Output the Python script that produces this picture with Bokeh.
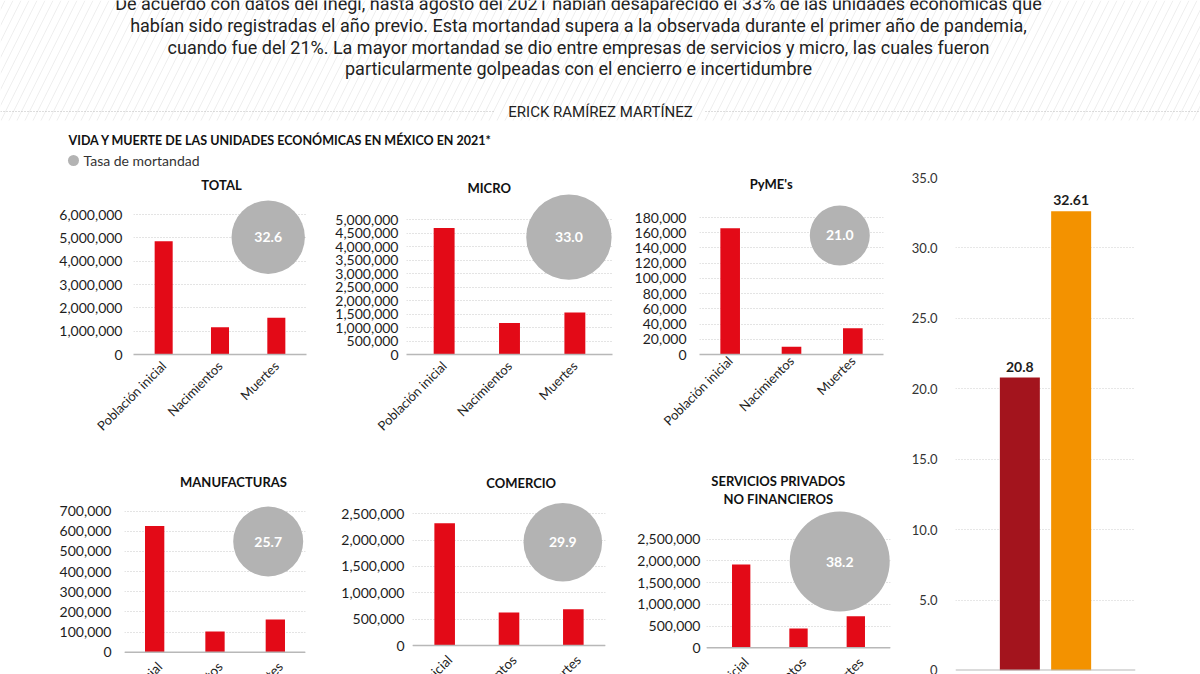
import math
from bokeh.plotting import figure
from bokeh.models import (Range1d, FactorRange, FixedTicker, NumeralTickFormatter,
                          CustomJSTickFormatter, Span, Label, LabelSet, ColumnDataSource, AllLabels)
from bokeh.transform import dodge
from bokeh.layouts import column, row
from bokeh.embed import file_html
from bokeh.resources import INLINE
from bokeh.core.properties import value

# ------------------------------------------------------------------ data
categories = ["Población inicial", "Nacimientos", "Muertes"]
total = [4850000, 1170000, 1580000]
micro = [4690000, 1170000, 1560000]
pymes = [166000, 10200, 34500]
manufacturas = [627000, 103000, 162000]
comercio = [2320000, 626000, 690000]
servicios = [1920000, 444000, 727000]
panel_names = ["TOTAL", "MICRO", "PyME's", "MANUFACTURAS", "COMERCIO",
               "SERVICIOS PRIVADOS\nNO FINANCIEROS"]
tasa_mortandad = [32.6, 33.0, 21.0, 25.7, 29.9, 38.2]
total_ticks = [0, 1000000, 2000000, 3000000, 4000000, 5000000, 6000000]
micro_ticks = [0, 500000, 1000000, 1500000, 2000000, 2500000, 3000000, 3500000,
               4000000, 4500000, 5000000]
pymes_ticks = [0, 20000, 40000, 60000, 80000, 100000, 120000, 140000, 160000, 180000]
manufacturas_ticks = [0, 100000, 200000, 300000, 400000, 500000, 600000, 700000]
comercio_ticks = [0, 500000, 1000000, 1500000, 2000000, 2500000]
servicios_ticks = [0, 500000, 1000000, 1500000, 2000000, 2500000]

periodos = ["2020", "2021"]
tasa_periodo = [20.8, 32.61]
periodo_ticks = [0, 5, 10, 15, 20, 25, 30, 35]

intro = [
    "De acuerdo con datos del Inegi, hasta agosto del 2021 habían desaparecido el 33% de las unidades económicas que",
    "habían sido registradas el año previo. Esta mortandad supera a la observada durante el primer año de pandemia,",
    "cuando fue del 21%. La mayor mortandad se dio entre empresas de servicios y micro, las cuales fueron",
    "particularmente golpeadas con el encierro e incertidumbre",
]
author = "ERICK RAMÍREZ MARTÍNEZ"
chart_title = "VIDA Y MUERTE DE LAS UNIDADES ECONÓMICAS EN MÉXICO EN 2021*"
legend_text = "Tasa de mortandad"

# ------------------------------------------------------------------ style
RED = "#E30A17"
GREY = "#B3B3B3"
BAR_COLORS = ["#A3141D", "#F39200"]
TXT = "#1d1d1d"
FONT = "Lato"
NARROW = "Roboto"

HEADER_H = 170
# page-pixel layout of each small panel
LAYOUT = [
    dict(fig=(0, 170, 332, 275), axis=(135, 304), y0=354, ytop=214, pad=2, xstand=3,
         bub=(267.7, 236.7, 36.7), title=[(221, 184)], lab_right=128),
    dict(fig=(332, 170, 298, 275), axis=(409, 607), y0=355, ytop=219.3, pad=5, xstand=3,
         bub=(568, 237, 42.7), title=[(486.7, 188)], lab_right=402),
    dict(fig=(630, 170, 270, 275), axis=(699, 883), y0=359, ytop=218.3, pad=0, xstand=-2,
         bub=(839.3, 236.7, 30), title=[(770.7, 188)], lab_right=691.7),
    dict(fig=(0, 445, 332, 229), axis=(124, 305), y0=651.7, ytop=510.7, pad=0,
         bub=(267.7, 541, 35), title=[(233, 481)], lab_right=116.7),
    dict(fig=(332, 445, 298, 229), axis=(412, 605), y0=645, ytop=513.3, pad=0,
         bub=(562.3, 541.7, 39.3), title=[(520.7, 482)], lab_right=410),
    dict(fig=(630, 445, 270, 229), axis=(712.5, 883.5), y0=647.3, ytop=538.7, pad=6,
         bub=(839, 561, 50), title=[(778.3, 480.7), (778.3, 498.3)], lab_right=706),
]


def bar_panel(vals, ticks, name, rate, L, top_row):
    fl, ft, fw, fh = L["fig"]
    a0, a1 = L["axis"]
    cat_px = (a1 - a0) / len(categories)
    pad = L["pad"]
    frame_l = a0 - pad
    frame_r = a1 + pad
    ymax = ticks[-1]
    per_px = ymax / (L["y0"] - L["ytop"])
    y_end = per_px * (L["y0"] - ft)
    if top_row:
        frame_b = L["y0"]
        y_start = 0
    else:
        frame_b = ft + fh
        y_start = -per_px * (frame_b - L["y0"])
    xr = FactorRange(*categories, range_padding=pad / cat_px, range_padding_units="absolute")
    p = figure(x_range=xr, y_range=Range1d(y_start, y_end), width=fw, height=fh,
               output_backend="svg", toolbar_location=None,
               min_border_left=int(round(frame_l - fl)), min_border_right=int(round(fl + fw - frame_r)),
               min_border_top=0, min_border_bottom=int(round(ft + fh - frame_b)))
    p.outline_line_color = None
    p.background_fill_color = "white"
    p.border_fill_color = "white"
    p.xgrid.visible = False

    src = ColumnDataSource(dict(cat=categories, val=vals))
    p.vbar(x="cat", top="val", bottom=0, width=0.32, source=src, fill_color=RED, line_color=None)

    yax = p.yaxis[0]
    yax.ticker = FixedTicker(ticks=ticks)
    yax.formatter = NumeralTickFormatter(format="0,0")
    yax.axis_line_color = None
    yax.major_tick_line_color = None
    yax.minor_tick_line_color = None
    yax.major_label_standoff = int(round(frame_l - L["lab_right"]))
    yax.major_label_text_font = FONT
    yax.major_label_text_font_size = "14px"
    yax.major_label_text_color = TXT
    yax.major_label_policy = AllLabels()
    p.ygrid.grid_line_color = "#c9c9c9"
    p.ygrid.grid_line_dash = "1 2"
    p.ygrid.grid_line_width = 1

    xax = p.xaxis[0]
    if top_row:
        xax.major_label_orientation = math.pi / 4
        xax.axis_line_color = "#b8b8b8"
        xax.axis_line_width = 1.5
        xax.major_tick_line_color = None
        xax.minor_tick_line_color = None
        xax.major_label_standoff = L["xstand"]
        xax.major_label_text_font = FONT
        xax.major_label_text_font_size = "13px"
        xax.major_label_text_color = TXT
    else:
        xax.visible = False
        p.add_layout(Span(location=0, dimension="width", line_color="#b8b8b8", line_width=1.5))
        lsrc = ColumnDataSource(dict(cat=categories, zero=[0] * len(categories)))
        p.add_layout(LabelSet(x="cat", y="zero", text="cat", source=lsrc, angle=math.pi / 4,
                              text_align="right", text_baseline="middle", x_offset=5, y_offset=-12,
                              text_font=value(FONT), text_font_size="13.5px", text_color=TXT))

    # mortality bubble
    bx, by, br = L["bub"]
    off = (bx - a0) / cat_px - 2.5
    by_data = per_px * (L["y0"] - by)
    bsrc = ColumnDataSource(dict(cat=["Muertes"], y=[by_data], txt=[f"{rate:.1f}"]))
    p.scatter(x=dodge("cat", off, range=xr), y="y", size=2 * br, source=bsrc,
              fill_color=GREY, line_color=None)
    p.text(x=dodge("cat", off, range=xr), y="y", text="txt", source=bsrc,
           text_align="center", text_baseline="middle", text_color="white",
           text_font=value(FONT), text_font_style="bold", text_font_size="14px")

    # panel title (screen units are relative to the frame, measured up from its bottom)
    for (tx, ty), line in zip(L["title"], name.split("\n")):
        p.add_layout(Label(x=tx - frame_l, y=frame_b - ty, x_units="screen", y_units="screen",
                           text=line, text_align="center", text_baseline="middle",
                           text_font=FONT, text_font_style="bold", text_font_size="13px",
                           text_color="#111111"))
    return p


series = [total, micro, pymes, manufacturas, comercio, servicios]
tick_sets = [total_ticks, micro_ticks, pymes_ticks, manufacturas_ticks, comercio_ticks, servicios_ticks]
panels = [bar_panel(series[i], tick_sets[i], panel_names[i], tasa_mortandad[i], LAYOUT[i], i < 3)
          for i in range(6)]

# ------------------------------------------------------------------ right panel
cat7 = 51.3
p7 = figure(x_range=FactorRange(*periodos, range_padding=((1135 - 955) / cat7 - 2) / 2,
                                range_padding_units="absolute"),
            y_range=Range1d(0, periodo_ticks[-1]), width=300, height=504,
            output_backend="svg", toolbar_location=None,
            min_border_left=55, min_border_right=65, min_border_top=7, min_border_bottom=4)
p7.outline_line_color = None
p7.xgrid.visible = False
p7.xaxis.visible = False
src7 = ColumnDataSource(dict(cat=periodos, val=tasa_periodo, color=BAR_COLORS,
                             txt=[f"{v:g}" for v in tasa_periodo]))
p7.vbar(x="cat", top="val", width=40 / cat7, source=src7, fill_color="color", line_color=None)
p7.add_layout(LabelSet(x="cat", y="val", text="txt", source=src7, y_offset=6,
                       text_align="center", text_baseline="bottom", text_font=value(FONT),
                       text_font_style="bold", text_font_size="14px", text_color=TXT))
y7 = p7.yaxis[0]
y7.ticker = FixedTicker(ticks=periodo_ticks)
y7.formatter = CustomJSTickFormatter(code="return tick == 0 ? '0' : tick.toFixed(1)")
y7.axis_line_color = None
y7.major_tick_line_color = None
y7.minor_tick_line_color = None
y7.major_label_standoff = 12
y7.major_label_text_font = FONT
y7.major_label_text_font_size = "13px"
y7.major_label_text_color = "#333333"
p7.ygrid.grid_line_color = "#cfcfcf"
p7.ygrid.grid_line_dash = "1 2"
p7.add_layout(Span(location=0, dimension="width", line_color="#b8b8b8", line_width=2))

# ------------------------------------------------------------------ header
hd = figure(x_range=Range1d(0, 1200), y_range=Range1d(HEADER_H, 0), width=1200, height=HEADER_H,
            output_backend="svg", toolbar_location=None, x_axis_type=None, y_axis_type=None,
            min_border=0)
hd.min_border_left = hd.min_border_right = hd.min_border_top = hd.min_border_bottom = 0
hd.outline_line_color = None
hd.grid.visible = False
hd.quad(left=[0], right=[1200], top=[0], bottom=[120], fill_alpha=0, line_color=None,
        hatch_pattern="/", hatch_color="#e6e6e6", hatch_weight=0.7, hatch_scale=16)
hd.text(x=[578] * len(intro), y=[3, 25, 46.7, 68.3], text=intro, text_align="center",
        text_baseline="middle", text_font=value(NARROW), text_font_size="18px", text_color="#222222")
hd.segment(x0=[0, 705], x1=[495, 1200], y0=[111, 111], y1=[111, 111], line_color="#bdbdbd",
           line_dash="1 2", line_width=1)
hd.text(x=[600], y=[111], text=[author], text_align="center", text_baseline="middle",
        text_font=value(NARROW), text_font_size="15px", text_color="#222222")
hd.text(x=[68], y=[140], text=[chart_title], text_align="left", text_baseline="middle",
        text_font=value(FONT), text_font_style="bold", text_font_size="12.5px", text_color="#111111")
hd.scatter(x=[73], y=[160], size=11, fill_color=GREY, line_color=None)
hd.text(x=[83], y=[160], text=[legend_text], text_align="left", text_baseline="middle",
        text_font=value(FONT), text_font_size="14px", text_color="#333333")

left = column(row(*panels[:3], spacing=0), row(*panels[3:], spacing=0), spacing=0)
page = column(hd, row(left, p7, spacing=0), spacing=0)

open("out.html", "w").write(file_html(page, INLINE))
